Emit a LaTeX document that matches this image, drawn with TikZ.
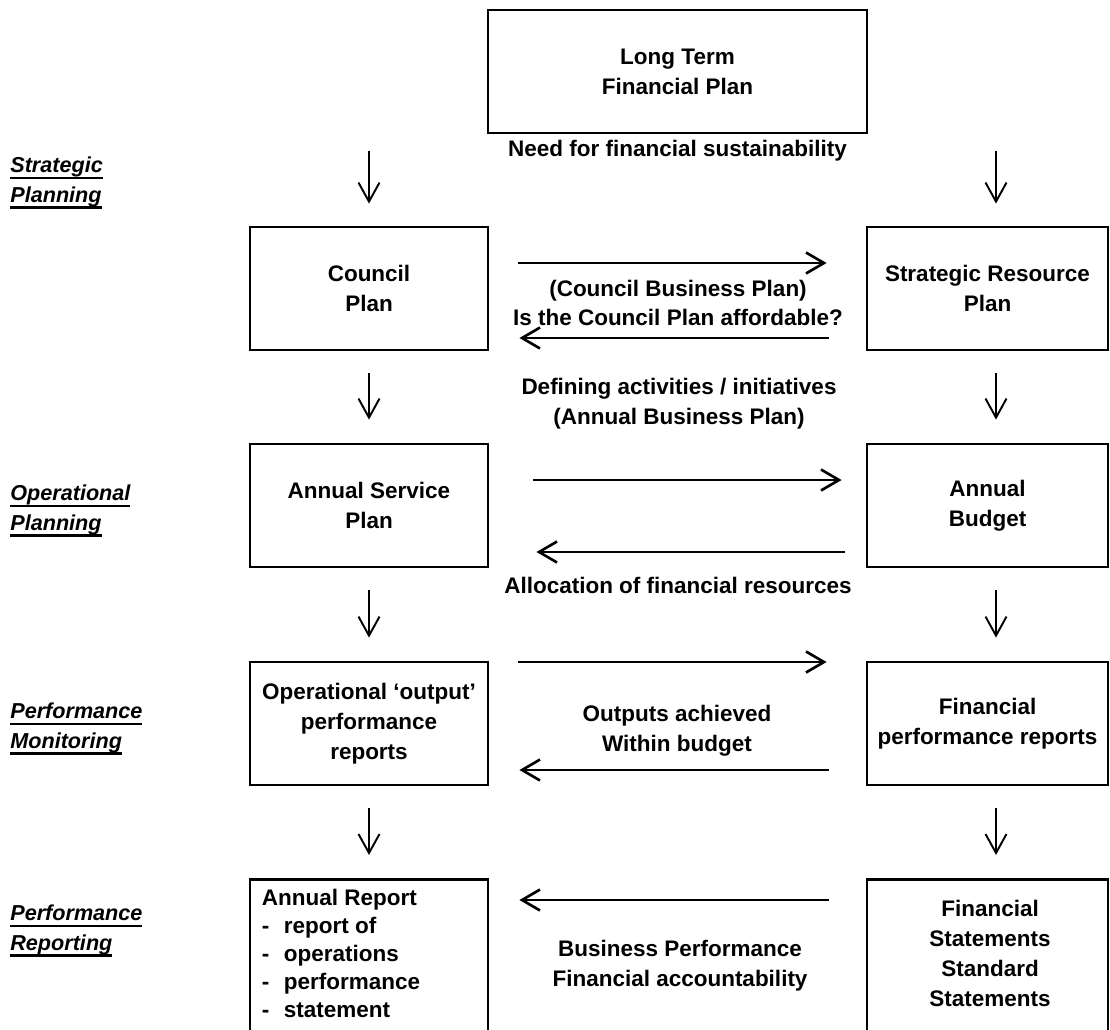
\documentclass[tikz,border=0pt]{standalone}
\usepackage{fontspec}
\setmainfont{Liberation Sans}
\usetikzlibrary{arrows.meta}
\newcommand{\sideul}[1]{\setbox0\hbox{#1}\rlap{\rule[-3.8pt]{\wd0}{1.5pt}}\box0}
\newcommand{\repdash}{\makebox[0.44cm][l]{-}}

\begin{document}
\begin{tikzpicture}[
    box/.style={draw, line width=1.6pt, minimum width=4.76cm, minimum height=2.46cm,
                align=center, inner sep=0pt, font=\fontsize{12.8}{17}\selectfont\bfseries},
    lbl/.style={align=center, inner sep=0pt, font=\fontsize{12.8}{17}\selectfont\bfseries},
    side/.style={anchor=west, align=left, inner sep=0pt,
                 font=\fontsize{12.3}{17}\selectfont\bfseries\itshape},
    varr/.style={line width=1.1pt, -{Straight Barb[length=0.38cm,width=0.42cm]},
                 shorten <=0.44cm, shorten >=0.46cm},
    harr/.style={line width=1.5pt, -{Straight Barb[length=0.36cm,width=0.42cm]}}]
  \useasboundingbox (0,0) rectangle (22.2,-20.58);
  \clip (0,0) rectangle (22.2,-20.58);

  \node[box, minimum width=7.58cm] (ltfp) at (13.55,-1.43) {Long Term\\Financial Plan};
  \node[lbl] (need) at (13.55,-3.02) {Need for financial sustainability};

  \node[box] (cp) at (7.38,-5.77) {Council\\Plan};
  \node[box, minimum width=4.82cm] (srp) at (19.75,-5.77) {Strategic Resource\\Plan};
  \node[box] (asp) at (7.38,-10.11) {Annual Service\\Plan};
  \node[box, minimum width=4.82cm] (ab) at (19.75,-10.11) {Annual\\Budget};
  \node[box] (opr) at (7.38,-14.47) {Operational `output'\\performance\\reports};
  \node[box, minimum width=4.82cm] (fpr) at (19.75,-14.47) {Financial\\performance reports};
  \node[box, minimum height=3.6cm, anchor=north] (ar) at (7.38,-17.56) {};
  \node[box, minimum width=4.82cm, minimum height=3.6cm, anchor=north] (fs) at (19.75,-17.56) {};

  \node[lbl, anchor=north west, align=left, font=\fontsize{12.8}{15.9}\selectfont\bfseries] (artxt)
    at ([xshift=0.26cm,yshift=-0.22cm]ar.north west)
    {Annual Report\\\repdash report of\\\repdash operations\\\repdash performance\\\repdash statement};
  \node[lbl, anchor=north] (fstxt) at ([xshift=0.05cm,yshift=-0.44cm]fs.north)
    {Financial\\Statements\\Standard\\Statements};

  \node[lbl] (cbp) at (13.56,-6.06) {(Council Business Plan)\\Is the Council Plan affordable?};
  \node[lbl] (def) at (13.58,-8.08) {Defining activities / initiatives\\(Annual Business Plan)};
  \node[lbl] (alloc) at (13.56,-11.70) {Allocation of financial resources};
  \node[lbl] (outp) at (13.54,-14.62) {Outputs achieved\\Within budget};
  \node[lbl] (bp) at (13.60,-19.32) {Business Performance\\Financial accountability};

  \node[side] (strat) at (0.20,-3.66) {\sideul{Strategic}\\\sideul{Planning}};
  \node[side] (oper) at (0.20,-10.22) {\sideul{Operational}\\\sideul{Planning}};
  \node[side] (mon) at (0.20,-14.58) {\sideul{Performance}\\\sideul{Monitoring}};
  \node[side] (rep) at (0.20,-18.62) {\sideul{Performance}\\\sideul{Reporting}};

  \coordinate (rx) at (19.92,0);
  \draw[varr, shorten <=0pt, shorten >=0.44cm] (cp.north |- need.center) -- (cp.north);
  \draw[varr, shorten <=0pt, shorten >=0.44cm] (rx |- need.center) -- (rx |- srp.north);
  \draw[varr] (cp.south) -- (asp.north);
  \draw[varr] (rx |- srp.south) -- (rx |- ab.north);
  \draw[varr] (asp.south) -- (opr.north);
  \draw[varr] (rx |- ab.south) -- (rx |- fpr.north);
  \draw[varr] (opr.south) -- (ar.north);
  \draw[varr] (rx |- fpr.south) -- (rx |- fs.north);

  \draw[harr, shorten <=0.58cm, shorten >=0.78cm] ([yshift=0.51cm]cp.east) -- ([yshift=0.51cm]srp.west);
  \draw[harr, shorten <=0.74cm, shorten >=0.60cm] ([yshift=-0.99cm]srp.west) -- ([yshift=-0.99cm]cp.east);
  \draw[harr, shorten <=0.88cm, shorten >=0.48cm] ([yshift=0.51cm]asp.east) -- ([yshift=0.51cm]ab.west);
  \draw[harr, shorten <=0.42cm, shorten >=0.94cm] ([yshift=-0.93cm]ab.west) -- ([yshift=-0.93cm]asp.east);
  \draw[harr, shorten <=0.58cm, shorten >=0.78cm] ([yshift=1.23cm]opr.east) -- ([yshift=1.23cm]fpr.west);
  \draw[harr, shorten <=0.74cm, shorten >=0.60cm] ([yshift=-0.93cm]fpr.west) -- ([yshift=-0.93cm]opr.east);
  \draw[harr, shorten <=0.74cm, shorten >=0.60cm] ([yshift=-0.44cm]fs.north west) -- ([yshift=-0.44cm]ar.north east);
\end{tikzpicture}
\end{document}
